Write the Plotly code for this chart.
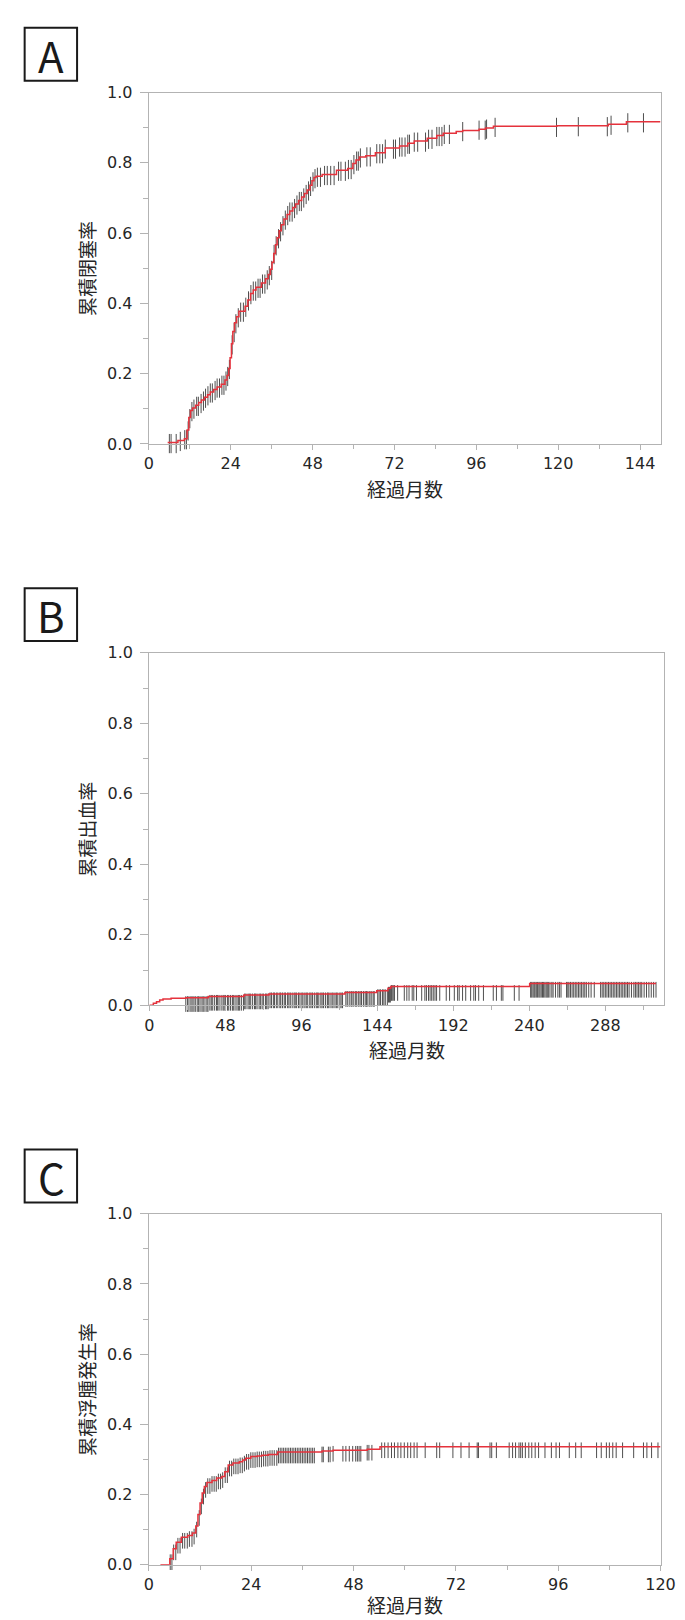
import numpy as np
import plotly.graph_objects as go

# ---------------- data ----------------
# Panel A : cumulative occlusion rate (step curve: month of event, cumulative value from then on)
a_months = [5.5, 8.5, 10.4, 11.2, 11.7, 12.2, 12.8, 13.7, 14.6, 15.4, 16.3, 17.2, 18.0, 19.0, 20.0,
            21.2, 22.3, 22.9, 23.4, 23.8, 24.2, 24.6, 25.1, 25.7, 26.4, 28.2, 29.0, 29.8, 30.6, 31.4,
            33.0, 34.2, 35.0, 35.6, 36.1, 36.6, 37.1, 37.6, 38.2, 38.8, 39.6, 40.5, 41.3, 42.2, 43.0,
            43.9, 44.8, 45.6, 46.4, 47.2, 47.8, 48.4, 49.0, 50.8, 55.0, 58.3, 59.8, 60.7, 61.7, 63.6,
            66.4, 69.3, 73.5, 75.9, 77.8, 81.6, 84.4, 86.3, 90.1, 92.0, 96.8, 98.7, 101.0, 119.6,
            134.7, 140.0]
a_cum = [0.004, 0.010, 0.015, 0.040, 0.075, 0.095, 0.102, 0.110, 0.118, 0.125, 0.133, 0.140, 0.148,
         0.155, 0.162, 0.170, 0.182, 0.195, 0.215, 0.245, 0.285, 0.320, 0.345, 0.362, 0.378, 0.392,
         0.410, 0.428, 0.438, 0.446, 0.458, 0.470, 0.482, 0.497, 0.517, 0.542, 0.567, 0.587, 0.607,
         0.624, 0.640, 0.653, 0.663, 0.673, 0.683, 0.693, 0.703, 0.713, 0.723, 0.736, 0.749, 0.758,
         0.762, 0.767, 0.779, 0.784, 0.798, 0.808, 0.817, 0.820, 0.829, 0.842, 0.848, 0.856, 0.862,
         0.870, 0.878, 0.884, 0.889, 0.892, 0.896, 0.899, 0.904, 0.906, 0.910, 0.917]
a_end = 150
a_censored = [6.0, 6.5, 8.0, 9.2, 10.5, 11.0, 11.5, 12.0, 12.6, 13.2, 14.0, 14.5, 15.3, 16.0, 16.6,
              17.3, 18.0, 18.6, 19.4, 20.0, 20.7, 21.4, 22.0, 22.6, 23.1, 23.6, 24.4, 25.0, 25.5,
              26.2, 26.9, 27.7, 28.4, 29.2, 29.9, 30.6, 31.3, 32.0, 32.6, 33.3, 34.0, 34.7, 35.3,
              36.0, 36.7, 37.3, 38.0, 38.6, 39.3, 40.0, 40.7, 41.3, 42.0, 42.7, 43.4, 44.1, 44.7,
              45.4, 46.1, 46.8, 47.4, 48.1, 48.7, 49.4, 50.3, 51.5, 52.3, 53.3, 54.3, 55.6, 56.3,
              57.6, 58.5, 59.3, 60.1, 60.9, 61.4, 62.0, 63.9, 64.9, 66.8, 67.7, 68.5, 69.3, 71.7,
              72.3, 73.5, 74.2, 75.1, 75.9, 76.4, 77.8, 78.8, 81.1, 82.0, 83.0, 84.4, 85.1, 85.9,
              86.6, 88.1, 92.0, 96.8, 98.6, 99.0, 101.5, 119.5, 125.9, 134.4, 135.5, 140.4, 145.0]

# Panel B : cumulative hemorrhage rate
b_months = [0.0, 2.5, 4.5, 6.5, 8.6, 13.7, 23.0, 37.2, 59.7, 75.5, 123.5, 143.6, 150.7, 152.5, 240.2]
b_cum = [0.0, 0.006, 0.010, 0.015, 0.018, 0.020, 0.0215, 0.025, 0.029, 0.032, 0.036, 0.041, 0.048,
         0.053, 0.062]
b_end = 320
b_censored = [0.8, 1.5, 4.5, 6.5, 8.6, 10.6, 13.3,
              23.0, 24.1, 25.0, 26.2, 27.0, 28.1, 29.0, 30.2, 31.1, 32.0, 33.2, 34.0, 35.1, 36.3,
              37.0, 38.2, 39.1, 40.0, 41.2, 42.4, 43.1, 44.0, 45.3, 46.5, 47.2, 48.0, 49.3, 50.1,
              51.2, 52.4, 53.0, 54.1, 55.3, 56.2, 57.0, 58.1, 59.4, 60.2, 61.0, 62.3, 63.1, 64.0,
              65.2, 66.4, 67.1, 68.0, 69.3, 70.1, 71.2, 72.0, 73.3, 74.1, 75.0, 76.2, 77.1, 78.3,
              79.0, 80.2, 81.1, 82.4, 83.0, 84.1, 85.2, 86.0, 87.3, 88.1, 89.0, 90.2, 91.4, 92.1,
              93.0, 94.2, 95.1, 96.3, 97.0, 98.2, 99.1, 100.0, 101.3, 102.1, 103.0, 104.2, 105.4,
              106.1, 107.0, 108.3, 109.1, 110.0, 111.2, 112.4, 113.0, 114.1, 115.3, 116.0, 117.2,
              118.1, 119.0, 120.3, 121.1, 122.0, 124.1, 125.0, 126.2, 127.4, 128.0, 129.1, 130.3,
              131.0, 132.2, 133.1, 134.0, 135.2, 136.3, 137.1, 138.0, 139.2, 140.1, 141.3, 142.0,
              144.2, 145.1, 146.0, 147.2, 148.1, 149.0, 150.3, 151.0, 151.6, 152.2, 152.8, 153.3,
              154.0, 154.8, 156.8, 161.0, 162.6, 164.0, 166.0, 167.0, 168.7, 172.0, 174.0, 175.0,
              176.3, 177.3, 178.3, 179.3, 180.4, 181.4, 183.4, 187.5, 189.6, 192.6, 194.7, 195.7,
              197.8, 199.8, 202.9, 204.9, 206.0, 208.0, 211.0, 217.2, 219.2, 222.3, 223.3, 230.5,
              233.5, 240.8, 241.5, 242.3, 243.0, 243.6, 244.4, 245.2, 246.0, 246.7, 247.5, 248.3,
              249.0, 249.8, 250.6, 251.3, 252.0, 253.0, 254.2, 255.0, 256.5, 258.0, 259.0, 260.0,
              263.5, 264.3, 265.0, 266.0, 267.0, 268.0, 269.0, 270.0, 271.0, 272.0, 273.0, 274.0,
              275.0, 276.0, 277.5, 279.0, 281.0, 285.0, 286.0, 287.0, 288.0, 289.0, 290.0, 291.0,
              292.0, 293.0, 294.0, 295.0, 296.0, 297.0, 298.0, 299.0, 300.0, 301.0, 302.0, 303.0,
              304.5, 306.0, 307.0, 308.0, 309.0, 310.0, 311.0, 312.5, 314.0, 315.5, 317.0, 318.5,
              320.0]

# Panel C : cumulative edema rate
c_months = [2.7, 4.9, 5.7, 6.4, 7.6, 9.1, 10.2, 11.0, 11.5, 12.0, 12.5, 13.0, 13.6, 14.8, 15.9, 17.1,
            17.8, 18.6, 19.7, 21.2, 22.0, 22.7, 23.9, 25.4, 26.5, 28.0, 30.2, 40.6, 43.2, 51.2, 54.2]
c_cum = [0.0, 0.017, 0.045, 0.064, 0.078, 0.083, 0.090, 0.110, 0.143, 0.176, 0.204, 0.223, 0.234,
         0.240, 0.247, 0.251, 0.265, 0.284, 0.290, 0.293, 0.298, 0.303, 0.308, 0.310, 0.312, 0.314,
         0.321, 0.324, 0.326, 0.329, 0.336]
c_end = 120
c_censored = [2.7, 4.2, 5.0, 5.4, 5.8, 6.3, 6.8, 7.3, 7.9, 8.4, 9.0, 9.5, 10.1, 10.6, 11.2, 11.8,
              12.3, 12.8, 13.3, 13.8, 14.3, 14.8, 15.3, 15.8, 16.3, 16.8, 17.3, 17.9, 18.4, 18.9,
              19.4, 19.9, 20.4, 20.9, 21.4, 21.9, 22.4, 22.9, 23.4, 23.9, 24.4, 24.9, 25.4, 25.9,
              26.4, 26.9, 27.4, 27.9, 28.4, 28.9, 29.4, 30.0, 30.4, 30.8, 31.2, 31.6, 32.0, 32.4,
              32.8, 33.2, 33.6, 34.0, 34.4, 34.8, 35.2, 35.6, 36.0, 36.4, 36.8, 37.2, 37.6, 38.0,
              38.4, 38.8, 40.6, 40.9, 42.1, 42.5, 43.2, 45.5, 46.2, 47.0, 47.8, 48.5, 48.9, 49.3,
              49.7, 51.2, 51.6, 52.3, 54.6, 55.3, 56.1, 56.9, 57.6, 58.4, 59.1, 59.9, 60.7, 61.4,
              62.2, 62.9, 64.8, 67.5, 68.2, 71.3, 73.2, 75.1, 77.0, 77.3, 80.0, 80.4, 81.5, 84.5,
              85.3, 86.0, 86.8, 87.2, 87.6, 88.3, 89.1, 89.8, 90.6, 91.4, 92.9, 94.4, 95.5, 96.3,
              98.6, 100.1, 101.4, 105.0, 106.1, 107.3, 108.0, 108.8, 109.6, 111.1, 113.7, 116.0,
              116.8, 117.9, 119.4]

panel_letters = ["A", "B", "C"]
y_titles = ["累積閉塞率", "累積出血率", "累積浮腫発生率"]
x_title = "経過月数"
x_ranges = [150, 325, 120]
x_major = [24, 48, 24]
x_minor = [12, 24, 12]

# ---------------- layout geometry (pixels) ----------------
W, H = 685, 1620
geom = [  # plot box edges; box-label top; x-title centre; censor-mark extent below/above curve
    dict(left=140, right=667, top=76.5, bottom=432, box_top=11, xt_mid=477, lo=0.030, hi=0.024),
    dict(left=140.5, right=670.5, top=643.3, bottom=1000, box_top=578, xt_mid=1045, lo=0.040, hi=0.004),
    dict(left=140, right=667, top=1211, bottom=1566, box_top=1146, xt_mid=1606, lo=0.032, hi=0.012),
]
series = [
    (a_months, a_cum, a_end, a_censored),
    (b_months, b_cum, b_end, b_censored),
    (c_months, c_cum, c_end, c_censored),
]

RED = "#e5323c"
MARK = "rgba(35,35,35,0.80)"
AXIS_GREY = "#b3b3b3"
TXT = "#262626"
TICK_FONT = dict(family="DejaVu Sans, sans-serif", size=16, color=TXT)
CJK_FONT = dict(family="Noto Sans CJK JP, sans-serif", size=19, color=TXT)

fig = go.Figure()
shapes, annotations = [], []
layout_axes = {}

for i, (g, (months, cum, end, cens)) in enumerate(zip(geom, series)):
    sfx = "" if i == 0 else str(i + 1)
    xa, ya = "x" + sfx, "y" + sfx
    months_a = np.array(months)
    cum_a = np.array(cum)
    cens_a = np.array(cens)
    idx = np.searchsorted(months_a, cens_a, side="right") - 1
    cval = np.where(idx >= 0, cum_a[np.clip(idx, 0, None)], 0.0)

    px_per_unit = g["bottom"] - g["top"]
    mark_len = (g["lo"] + g["hi"]) * px_per_unit

    # censor marks (vertical ticks)
    fig.add_trace(go.Scatter(
        x=cens_a, y=cval + (g["hi"] - g["lo"]) / 2,
        mode="markers", xaxis=xa, yaxis=ya, cliponaxis=False, showlegend=False,
        marker=dict(symbol="line-ns-open", size=mark_len / 1.4, color=MARK,
                    line=dict(width=1, color=MARK)),
        hoverinfo="skip"))
    # step curve
    fig.add_trace(go.Scatter(
        x=list(months) + [end], y=list(cum) + [cum[-1]],
        mode="lines", line=dict(color=RED, width=1.5, shape="hv"),
        xaxis=xa, yaxis=ya, showlegend=False))

    xdom = [g["left"] / W, g["right"] / W]
    ydom = [1 - g["bottom"] / H, 1 - g["top"] / H]
    common = dict(showline=True, linecolor=AXIS_GREY, linewidth=1.3, mirror=True,
                  ticks="outside", tickcolor=AXIS_GREY, tickwidth=1.2,
                  showgrid=False, zeroline=False, tickfont=TICK_FONT)
    layout_axes["xaxis" + sfx] = dict(
        domain=xdom, anchor=ya, range=[0, x_ranges[i]], tick0=0, dtick=x_major[i], ticklen=5,
        minor=dict(dtick=x_minor[i], ticks="outside", ticklen=4, tickcolor=AXIS_GREY, showgrid=False),
        **common)
    layout_axes["yaxis" + sfx] = dict(
        domain=ydom, anchor=xa, range=[0, 1], tick0=0, dtick=0.2, tickformat=".1f", ticklen=8,
        ticklabelstandoff=4,
        minor=dict(dtick=0.1, ticks="outside", ticklen=5, tickcolor=AXIS_GREY, showgrid=False),
        **common)

    # panel letter box
    bt = g["box_top"]
    shapes.append(dict(type="rect", xref="paper", yref="paper",
                       x0=12 / W, x1=66 / W, y0=1 - (bt + 53.5) / H, y1=1 - bt / H,
                       line=dict(color="#1a1a1a", width=2), fillcolor="white"))
    annotations.append(dict(text=panel_letters[i], xref="paper", yref="paper",
                            x=39.5 / W, y=1 - (bt + 27) / H, showarrow=False,
                            xanchor="center", yanchor="middle",
                            font=dict(family="Noto Sans CJK JP, sans-serif", size=42, color="#1a1a1a")))
    # axis titles
    annotations.append(dict(text=x_title, xref="paper", yref="paper",
                            x=(g["left"] + g["right"]) / 2 / W, y=1 - g["xt_mid"] / H,
                            showarrow=False, xanchor="center", yanchor="middle", borderpad=0,
                            font=CJK_FONT))
    annotations.append(dict(text=y_titles[i], xref="paper", yref="paper", textangle=-90,
                            x=75 / W, y=1 - (g["top"] + g["bottom"]) / 2 / H,
                            showarrow=False, xanchor="center", yanchor="middle", borderpad=0,
                            font=CJK_FONT))

fig.update_layout(
    width=W, height=H, margin=dict(l=0, r=0, t=0, b=0),
    paper_bgcolor="white", plot_bgcolor="white",
    shapes=shapes, annotations=annotations, **layout_axes)

fig.write_html("out.html")
